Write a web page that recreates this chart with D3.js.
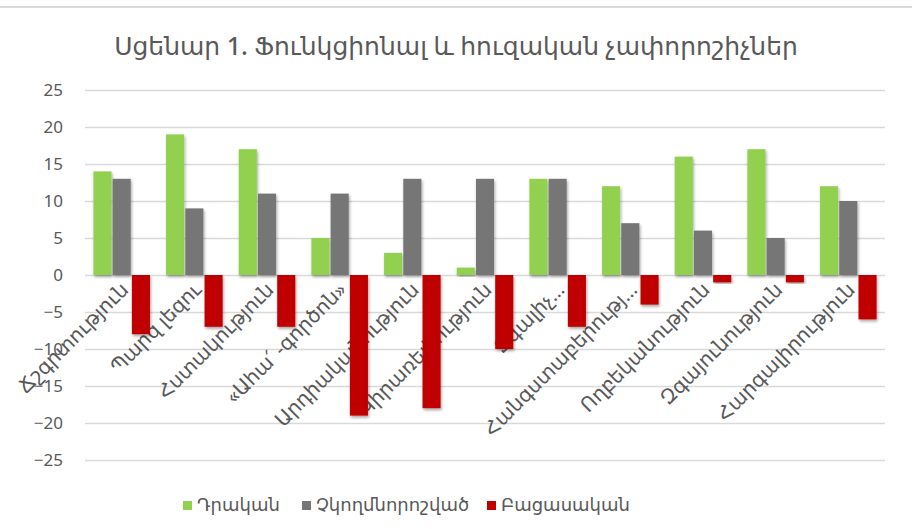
<!DOCTYPE html>
<html>
<head>
<meta charset="utf-8">
<script src="https://cdn.jsdelivr.net/npm/d3@7"></script>
<style>
  body { margin: 0; background: #fff; }
  text { font-family: "Noto Sans", "DejaVu Sans", sans-serif; fill: #595959; }
</style>
</head>
<body>
<script>
const width = 912;
const height = 529;

const title = "Սցենար 1. Ֆունկցիոնալ և հուզական չափորոշիչներ";
const categories = ["Ճշգրտություն", "Պարզ լեզու", "Հստակություն", "«Ահա՛ -գործոն»", "Արդիականություն",
                    "Կիրառելիություն", "Զգալիչ…", "Հանգստաբերությ…", "Ողբեկանություն", "Զգայունություն", "Հարգալիրություն"];
const seriesNames = ["Դրական", "Չկողմնորոշված", "Բացասական"];
const seriesColors = ["#92d050", "#767676", "#c00000"];
const positive = [14, 19, 17, 5, 3, 1, 13, 12, 16, 17, 12];
const neutral = [13, 9, 11, 11, 13, 13, 13, 7, 6, 5, 10];
const negative = [-8, -7, -7, -19, -18, -10, -7, -4, -1, -1, -6];
const yTicks = [25, 20, 15, 10, 5, 0, -5, -10, -15, -20, -25];

const seriesValues = [positive, neutral, negative];

const svg = d3.select("body").append("svg")
    .attr("width", width)
    .attr("height", height);

// drop shadow like the office chart
const defs = svg.append("defs");
defs.append("filter").attr("id", "shadow")
    .attr("x", "-30%").attr("y", "-10%").attr("width", "160%").attr("height", "130%")
  .append("feDropShadow")
    .attr("dx", 1).attr("dy", 2).attr("stdDeviation", 1.5)
    .attr("flood-color", "#000").attr("flood-opacity", 0.35);

// top frame line
svg.append("line")
    .attr("x1", 0).attr("x2", width).attr("y1", 7).attr("y2", 7)
    .attr("stroke", "#d9d9d9").attr("stroke-width", 2);

svg.append("text")
    .attr("x", width / 2).attr("y", 55)
    .attr("text-anchor", "middle")
    .style("font-size", "25px")
    .style("font-weight", 500)
    .text(title);

const x0 = d3.scaleBand().domain(categories).range([85, 885]).paddingInner(0.19).paddingOuter(0.1);
const x1 = d3.scaleBand().domain(seriesNames).range([0, x0.bandwidth()]).padding(0.06);
const y = d3.scaleLinear().domain([-25, 25]).range([460, 90]);

// gridlines + tick labels
const yAxis = svg.append("g")
    .attr("transform", "translate(85,0)")
    .call(d3.axisLeft(y).tickValues(yTicks).tickSize(-800).tickPadding(22));
yAxis.select(".domain").remove();
yAxis.selectAll(".tick line").attr("stroke", "#d9d9d9").attr("stroke-width", 1.3);
yAxis.selectAll(".tick text")
    .style("font-size", "17px")
    .style("font-family", "\"Noto Sans\", \"DejaVu Sans\", sans-serif")
    .attr("fill", "#595959");

// rotated category labels (drawn under the bars)
svg.append("g").selectAll("text")
    .data(categories)
    .join("text")
    .attr("text-anchor", "end")
    .attr("transform", d => `translate(${x0(d) + x0.bandwidth() / 2 + 8},${291}) rotate(-45)`)
    .style("font-size", "20px")
    .text(d => d);

// bars
const groups = svg.append("g").selectAll("g")
    .data(categories)
    .join("g")
    .attr("transform", d => `translate(${x0(d)},0)`);

groups.selectAll("rect")
    .data((d, i) => seriesNames.map((s, k) => ({ s: s, v: seriesValues[k][i], c: seriesColors[k] })))
    .join("rect")
    .attr("x", d => x1(d.s))
    .attr("width", x1.bandwidth())
    .attr("y", d => y(Math.max(0, d.v)))
    .attr("height", d => Math.abs(y(d.v) - y(0)))
    .attr("fill", d => d.c)
    .attr("filter", "url(#shadow)");

// legend
const legendX = [183, 302, 487];
const legend = svg.append("g").selectAll("g")
    .data(seriesNames)
    .join("g")
    .attr("transform", (d, i) => `translate(${legendX[i]},511)`);
legend.append("rect")
    .attr("x", 0).attr("y", -10).attr("width", 9).attr("height", 9)
    .attr("fill", (d, i) => seriesColors[i]);
legend.append("text")
    .attr("x", 14).attr("y", 0)
    .style("font-size", "18px")
    .text(d => d);
</script>
</body>
</html>
